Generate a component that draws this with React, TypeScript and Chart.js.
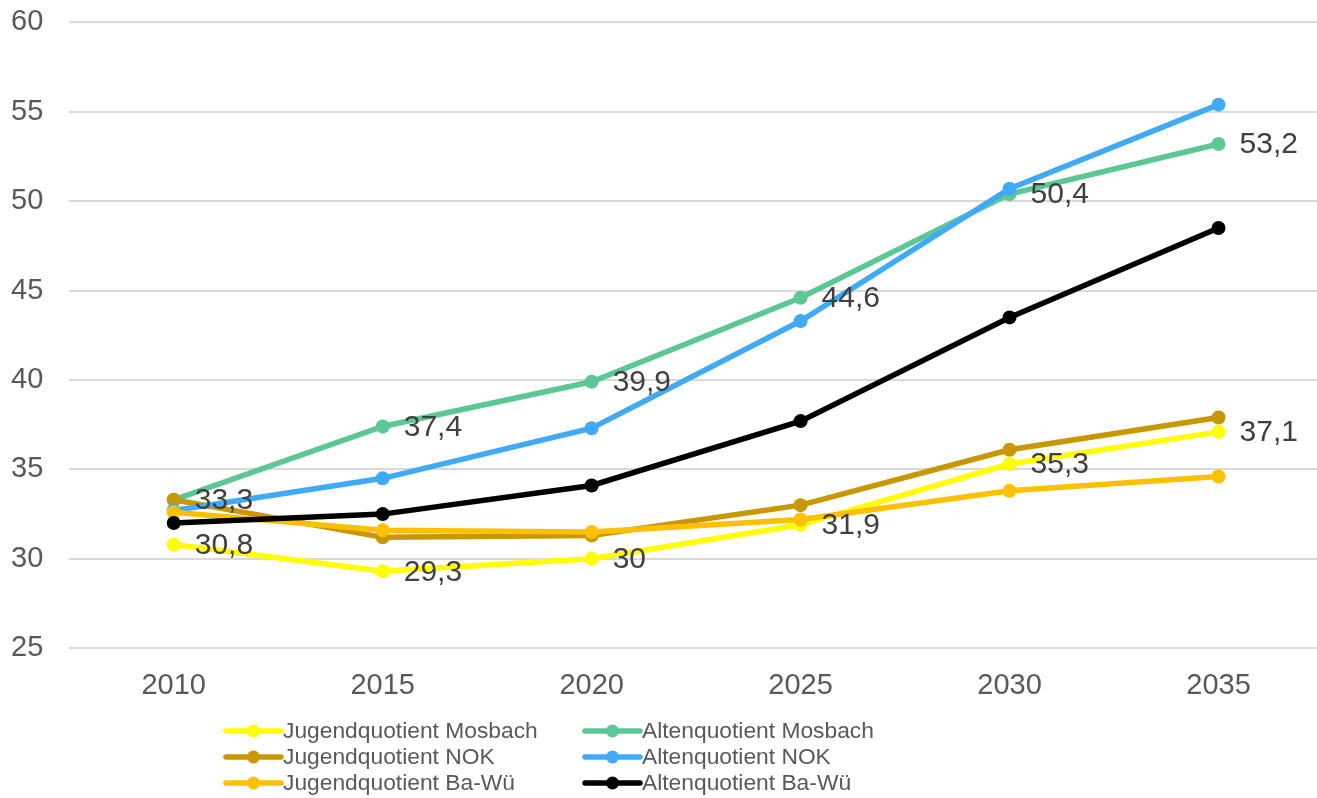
import React, { useEffect, useRef } from "react";
import { Chart, registerables } from "chart.js";

Chart.register(...registerables);

// Jahre und Quotienten (Personen je 100 Erwerbsfähige)
const years = ["2010", "2015", "2020", "2025", "2030", "2035"];

const jugendMosbach = [30.8, 29.3, 30.0, 31.9, 35.3, 37.1];
const altenMosbach = [33.3, 37.4, 39.9, 44.6, 50.4, 53.2];
const jugendNOK = [33.3, 31.2, 31.3, 33.0, 36.1, 37.9];
const altenNOK = [32.7, 34.5, 37.3, 43.3, 50.7, 55.4];
const jugendBaWue = [32.6, 31.6, 31.5, 32.2, 33.8, 34.6];
const altenBaWue = [32.0, 32.5, 34.1, 37.7, 43.5, 48.5];

const seriesNames = [
  "Jugendquotient Mosbach",
  "Altenquotient Mosbach",
  "Jugendquotient NOK",
  "Altenquotient NOK",
  "Jugendquotient Ba-Wü",
  "Altenquotient Ba-Wü",
];
const seriesData = [jugendMosbach, altenMosbach, jugendNOK, altenNOK, jugendBaWue, altenBaWue];
const seriesColors = ["#FFFF00", "#5CC794", "#C99700", "#41AAF7", "#FFC000", "#000000"];
// only the Mosbach series carry value labels
const labelledSeries = [0, 1];

const yTicks = [25, 30, 35, 40, 45, 50, 55, 60];

const FONT = "'Liberation Sans', Arial, sans-serif";

// the canvas is shifted by this much inside its frame
const SHIFT_X = 26;
const SHIFT_Y = 21;

const fmt = (v: number) => String(v).replace(".", ",");

const valueLabels = {
  id: "valueLabels",
  afterDatasetsDraw(chart: any) {
    const ctx = chart.ctx;
    ctx.save();
    ctx.font = `30px ${FONT}`;
    ctx.fillStyle = "#404040";
    ctx.textAlign = "left";
    ctx.textBaseline = "middle";
    labelledSeries.forEach((di) => {
      const meta = chart.getDatasetMeta(di);
      meta.data.forEach((pt: any, i: number) => {
        ctx.fillText(fmt(seriesData[di][i]), pt.x + 21, pt.y + 1);
      });
    });
    ctx.restore();
  },
};

const bottomLegend = {
  id: "bottomLegend",
  afterDraw(chart: any) {
    const ctx = chart.ctx;
    const cols = [226, 585];
    const rows = [731, 757, 783];
    const lineLen = 55;
    ctx.save();
    ctx.translate(SHIFT_X, SHIFT_Y);
    ctx.font = `22.8px ${FONT}`;
    ctx.textBaseline = "middle";
    ctx.textAlign = "left";
    seriesNames.forEach((name, i) => {
      const x = cols[i % 2];
      const y = rows[Math.floor(i / 2)];
      ctx.strokeStyle = seriesColors[i];
      ctx.lineWidth = 5.5;
      ctx.lineCap = "round";
      ctx.beginPath();
      ctx.moveTo(x, y);
      ctx.lineTo(x + lineLen, y);
      ctx.stroke();
      ctx.fillStyle = seriesColors[i];
      ctx.beginPath();
      ctx.arc(x + lineLen / 2, y, 6.5, 0, Math.PI * 2);
      ctx.fill();
      ctx.fillStyle = "#595959";
      ctx.fillText(name, x + lineLen + 2, y + 1);
    });
    ctx.restore();
  },
};

export default function App() {
  const canvasRef = useRef<HTMLCanvasElement | null>(null);

  useEffect(() => {
    if (!canvasRef.current) return;
    const chart = new Chart(canvasRef.current, {
      type: "line",
      data: {
        labels: years,
        datasets: seriesData.map((d, i) => ({
          label: seriesNames[i],
          data: d,
          borderColor: seriesColors[i],
          backgroundColor: seriesColors[i],
          pointBackgroundColor: seriesColors[i],
          pointBorderColor: seriesColors[i],
          borderWidth: 5.5,
          pointRadius: 7,
          pointBorderWidth: 0,
          tension: 0,
          order: seriesData.length - 1 - i,
        })),
      },
      options: {
        responsive: false,
        animation: false,
        devicePixelRatio: 1,
        events: [],
        layout: { padding: { left: 11, top: 21, right: 0, bottom: 75 } },
        plugins: {
          legend: { display: false },
          tooltip: { enabled: false },
        },
        scales: {
          x: {
            offset: true,
            grid: { display: false, drawTicks: false },
            border: { display: false },
            ticks: { color: "#595959", font: { family: FONT, size: 29 }, padding: 20 },
          },
          y: {
            min: 25,
            max: 60,
            afterBuildTicks: (axis: any) => {
              axis.ticks = yTicks.map((v) => ({ value: v }));
            },
            grid: { color: "#D9D9D9", lineWidth: 2, drawTicks: false },
            border: { display: false },
            ticks: { color: "#595959", font: { family: FONT, size: 29 }, padding: 26 },
          },
        },
      },
      plugins: [valueLabels, bottomLegend],
    });
    return () => chart.destroy();
  }, []);

  return (
    <div
      style={{
        position: "absolute",
        left: 0,
        top: 0,
        width: 1317,
        height: 798,
        overflow: "hidden",
        background: "#ffffff",
      }}
    >
      <canvas
        ref={canvasRef}
        width={1330 + SHIFT_X}
        height={798 + SHIFT_Y}
        style={{ display: "block", marginLeft: -SHIFT_X, marginTop: -SHIFT_Y }}
      />
    </div>
  );
}
